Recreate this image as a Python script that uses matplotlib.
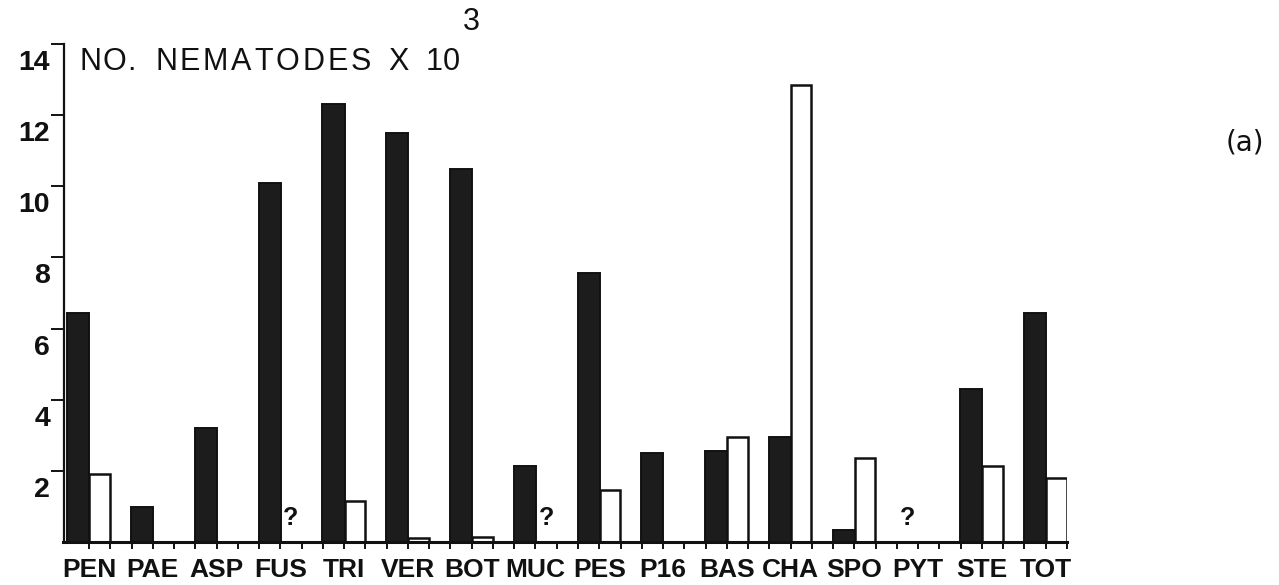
import numpy as np
import matplotlib
matplotlib.use("Agg")
import matplotlib.pyplot as plt

# Fungal isolates (group labels along the x axis)
categories = ["PEN", "PAE", "ASP", "FUS", "TRI", "VER", "BOT", "MUC",
              "PES", "P16", "BAS", "CHA", "SPO", "PYT", "STE", "TOT"]
# Nematode counts (x 10^3); NaN = not determined ("?")
solid_vals = [6.45, 0.98, 3.2, 10.1, 12.3, 11.5, 10.5, 2.15,
              7.55, 2.5, 2.55, 2.95, 0.35, np.nan, 4.3, 6.45]
open_vals = [1.9, 0.0, 0.0, np.nan, 1.15, 0.1, 0.15, np.nan,
             1.45, 0.0, 2.95, 12.85, 2.35, 0.0, 2.15, 1.8]
y_ticks = [2, 4, 6, 8, 10, 12, 14]

W, H = 1279, 585
fig = plt.figure(figsize=(W / 100, H / 100), dpi=100)
fig.patch.set_facecolor("white")

x0_px, x1_px = 63.5, 1067
y0_px, y14_px = 542, 44
ax = fig.add_axes([x0_px / W, (H - y0_px) / H,
                   (x1_px - x0_px) / W, (y0_px - y14_px) / H])
ax.set_xlim(-0.2, 47)
ax.set_ylim(0, 14)

n = len(categories)
groups = 3 * np.arange(n)
x_solid = groups + 0.5
x_open = groups + 1.5

solid = np.array(solid_vals, dtype=float)
opened = np.array(open_vals, dtype=float)

ax.bar(x_solid, np.nan_to_num(solid), width=1.04, color="#1c1c1c",
       edgecolor="#111111", linewidth=1.4)
ax.bar(x_open, np.nan_to_num(opened), width=0.96, facecolor="white",
       edgecolor="#111111", linewidth=1.8)

# question marks where a count could not be determined
qfont = dict(family="Liberation Sans", weight="bold", size=18, color="#111111")
for xs, vals in ((x_solid, solid), (x_open, opened)):
    for x, v in zip(xs, vals):
        if np.isnan(v):
            ax.text(x, 0.35, "?", ha="center", va="bottom", **qfont)

# axes styling
for side in ("top", "right"):
    ax.spines[side].set_visible(False)
ax.spines["left"].set_linewidth(1.6)
ax.spines["bottom"].set_linewidth(2.2)
ax.spines["left"].set_color("#111111")
ax.spines["bottom"].set_color("#111111")

ax.set_yticks(y_ticks)
ax.set_yticklabels([])
ax.tick_params(axis="y", direction="out", length=9.5, width=1.4, color="#111111")
ax.set_xticks(np.arange(1, 48))
ax.set_xticklabels([])
ax.tick_params(axis="x", direction="out", length=5, width=1.4, color="#111111")

lab_font = dict(family="Liberation Sans", weight="bold", color="#111111")
for v in y_ticks:
    ax.annotate(str(v), xy=(0, v), xycoords=("axes fraction", "data"),
                xytext=(-13.5, -6), textcoords="offset pixels",
                ha="right", va="top", size=20.5, **lab_font)

for g, name in zip(groups, categories):
    ax.annotate(name, xy=(g + 1, 0), xycoords=("data", "axes fraction"),
                xytext=(0, -16), textcoords="offset pixels",
                ha="center", va="top", size=19, **lab_font)

# axis title with letter spacing
renderer = fig.canvas.get_renderer()
tfont = dict(family="Liberation Sans", size=22, color="#111111")


def spaced_text(x_px, y_px, s, track_px):
    x = x_px
    for ch in s:
        t = fig.text(x / W, y_px / H, ch, ha="left", va="baseline", **tfont)
        x += t.get_window_extent(renderer).width + track_px


spaced_text(80, H - 70, "NO.", 0.5)
spaced_text(155, H - 70, "NEMATODES", 2.8)
spaced_text(388, H - 70, "X", 0)
spaced_text(426, H - 70, "10", 0)
spaced_text(463, H - 30, "3", 0)

fig.text(1245 / W, (H - 143) / H, "(a)", ha="center", va="center",
         family="DejaVu Sans", size=20, color="#111111")

fig.savefig("out.png", dpi=100, facecolor="white")
